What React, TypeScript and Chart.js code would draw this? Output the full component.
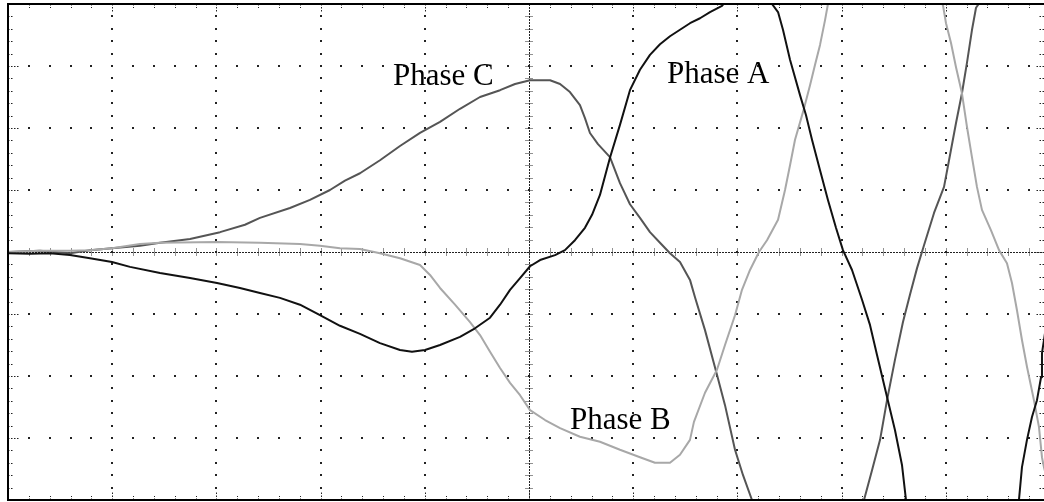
import React, { useEffect, useRef } from "react";
import { Chart, registerables } from "chart.js";

Chart.register(...registerables);

// ---- Data (x in horizontal divisions 0..10, y in vertical divisions -4..4) ----
const phaseAX = [0, 0.211, 0.403, 0.595, 0.787, 0.998, 1.171, 1.459, 1.747, 2.006, 2.226, 2.418, 2.61, 2.802, 2.994, 3.186, 3.378, 3.57, 3.762, 3.877, 4.002, 4.146, 4.338, 4.482, 4.626, 4.722, 4.818, 4.914, 5.01, 5.106, 5.25, 5.345, 5.441, 5.537, 5.605, 5.681, 5.777, 5.873, 5.969, 6.065, 6.161, 6.257, 6.353, 6.545, 6.641, 6.737, 6.852, 7.102, 7.332, 7.39, 7.438, 7.505, 7.601, 7.658, 7.716, 7.793, 7.869, 7.946, 8.013, 8.1, 8.196, 8.273, 8.34, 8.436, 8.512, 8.58, 8.618, 9.155, 9.702, 9.731, 9.779, 9.827, 9.875, 9.914, 9.923, 9.942, 10.0];
const phaseAY = [-0.02, -0.03, -0.02, -0.05, -0.1, -0.16, -0.24, -0.34, -0.42, -0.5, -0.58, -0.66, -0.74, -0.85, -1.02, -1.19, -1.32, -1.47, -1.58, -1.61, -1.58, -1.5, -1.37, -1.23, -1.06, -0.85, -0.61, -0.42, -0.23, -0.13, -0.05, 0.03, 0.19, 0.39, 0.6, 0.92, 1.52, 2.05, 2.61, 2.94, 3.18, 3.35, 3.48, 3.69, 3.77, 3.87, 3.97, 4.47, 4.0, 3.87, 3.58, 3.1, 2.53, 2.21, 1.81, 1.32, 0.84, 0.39, 0.03, -0.29, -0.77, -1.18, -1.66, -2.34, -2.87, -3.44, -4.0, -4.97, -4.0, -3.47, -3.03, -2.66, -2.39, -2.02, -1.63, -1.42, -0.77];

const phaseBX = [0, 0.307, 0.595, 0.787, 0.998, 1.267, 1.459, 2.006, 2.418, 2.802, 2.994, 3.186, 3.378, 3.57, 3.762, 3.954, 4.05, 4.146, 4.29, 4.434, 4.53, 4.626, 4.722, 4.818, 4.914, 5.01, 5.154, 5.298, 5.489, 5.681, 5.873, 6.065, 6.209, 6.353, 6.449, 6.545, 6.583, 6.689, 6.804, 6.881, 6.977, 7.044, 7.121, 7.207, 7.284, 7.39, 7.457, 7.505, 7.553, 7.63, 7.697, 7.745, 7.793, 7.841, 7.869, 8.417, 8.973, 9.002, 9.05, 9.098, 9.155, 9.203, 9.251, 9.299, 9.347, 9.434, 9.511, 9.587, 9.635, 9.683, 9.731, 9.779, 9.846, 9.894, 9.923, 9.942, 10.0];
const phaseBY = [0, 0.02, 0.02, 0.03, 0.06, 0.13, 0.15, 0.16, 0.15, 0.13, 0.1, 0.06, 0.05, -0.02, -0.1, -0.21, -0.37, -0.58, -0.85, -1.13, -1.34, -1.61, -1.87, -2.11, -2.31, -2.55, -2.71, -2.84, -2.98, -3.06, -3.19, -3.31, -3.4, -3.4, -3.27, -3.03, -2.74, -2.27, -1.9, -1.5, -1.02, -0.61, -0.29, 0.0, 0.19, 0.52, 1.0, 1.4, 1.81, 2.26, 2.69, 3.02, 3.34, 3.74, 4.0, 5.19, 3.98, 3.69, 3.37, 2.98, 2.56, 2.02, 1.53, 1.05, 0.68, 0.35, 0.03, -0.18, -0.5, -0.94, -1.42, -1.85, -2.39, -2.82, -3.31, -3.47, -3.84];

const phaseCX = [0, 0.307, 0.595, 0.787, 0.998, 1.267, 1.459, 1.747, 2.035, 2.274, 2.418, 2.706, 2.898, 3.09, 3.234, 3.378, 3.57, 3.762, 3.954, 4.146, 4.338, 4.53, 4.722, 4.866, 5.01, 5.202, 5.298, 5.393, 5.489, 5.537, 5.585, 5.662, 5.777, 5.873, 5.969, 6.065, 6.161, 6.257, 6.353, 6.449, 6.545, 6.593, 6.689, 6.804, 6.881, 6.977, 7.054, 7.14, 7.678, 8.215, 8.292, 8.369, 8.436, 8.512, 8.589, 8.656, 8.724, 8.791, 8.887, 8.983, 9.031, 9.098, 9.155, 9.203, 9.251, 9.29, 9.616, 10.0];
const phaseCY = [0, 0.02, -0.02, 0.03, 0.06, 0.1, 0.15, 0.21, 0.32, 0.44, 0.55, 0.71, 0.84, 1.0, 1.15, 1.27, 1.48, 1.71, 1.92, 2.1, 2.31, 2.5, 2.61, 2.71, 2.77, 2.77, 2.71, 2.58, 2.37, 2.16, 1.92, 1.74, 1.53, 1.11, 0.77, 0.55, 0.32, 0.15, -0.02, -0.16, -0.45, -0.73, -1.26, -1.98, -2.47, -3.19, -3.6, -4.0, -5.05, -4.0, -3.52, -3.03, -2.39, -1.74, -1.13, -0.69, -0.26, 0.11, 0.63, 1.05, 1.48, 2.08, 2.56, 3.05, 3.58, 3.94, 4.71, 4.39];

const seriesNames = ["Phase A", "Phase B", "Phase C"];
const seriesColors = ["#111111", "#a8a8a8", "#555555"];

// Label anchors (left/baseline) in division units
const labelNames = ["Phase C", "Phase A", "Phase B"];
const labelX = [3.695, 6.324, 5.393];
const labelY = [2.694, 2.726, -2.855];

// Axis divisions
const xMin = 0;
const xMax = 10;
const yMin = -4;
const yMax = 4;
const minorPerDiv = 5;

const toPoints = (xs: number[], ys: number[]) => xs.map((x, i) => ({ x, y: ys[i] }));

const scopeGrid = {
  id: "scopeGrid",
  beforeDatasetsDraw(chart: any) {
    const { ctx, chartArea: a, scales } = chart;
    const xs = scales.x;
    const ys = scales.y;
    ctx.save();
    ctx.fillStyle = "#222";
    const minorX: number[] = [];
    for (let i = xMin * minorPerDiv; i <= xMax * minorPerDiv; i++) minorX.push(i / minorPerDiv);
    const minorY: number[] = [];
    for (let i = yMin * minorPerDiv; i <= yMax * minorPerDiv; i++) minorY.push(i / minorPerDiv);

    // dotted major vertical lines
    for (let X = xMin + 1; X < xMax; X++) {
      if (X === 5) continue;
      const px = Math.round(xs.getPixelForValue(X));
      for (const Y of minorY) {
        const py = Math.round(ys.getPixelForValue(Y));
        ctx.fillRect(px - 1, py - 1, 2, 2);
      }
    }
    // dotted major horizontal lines
    for (let Y = yMin + 1; Y < yMax; Y++) {
      if (Y === 0) continue;
      const py = Math.round(ys.getPixelForValue(Y));
      for (const X of minorX) {
        const px = Math.round(xs.getPixelForValue(X));
        ctx.fillRect(px - 1, py - 1, 2, 2);
      }
    }
    // center cross lines
    ctx.strokeStyle = "#222";
    ctx.lineWidth = 1;
    const cy = Math.round(ys.getPixelForValue(0)) + 0.5;
    const cx = Math.round(xs.getPixelForValue(5)) + 0.5;
    ctx.setLineDash([2, 1]);
    ctx.beginPath();
    ctx.moveTo(a.left, cy);
    ctx.lineTo(a.right, cy);
    ctx.moveTo(cx, a.top);
    ctx.lineTo(cx, a.bottom);
    ctx.stroke();
    ctx.setLineDash([1, 1]);
    ctx.beginPath();
    for (const X of minorX) {
      const px = Math.round(xs.getPixelForValue(X)) + 0.5;
      ctx.moveTo(px, cy - 4);
      ctx.lineTo(px, cy + 4);
    }
    for (const Y of minorY) {
      const py = Math.round(ys.getPixelForValue(Y)) + 0.5;
      ctx.moveTo(cx - 4, py);
      ctx.lineTo(cx + 4, py);
    }
    ctx.stroke();

    // border ticks
    ctx.setLineDash([]);
    ctx.beginPath();
    for (const X of minorX) {
      const px = Math.round(xs.getPixelForValue(X)) + 0.5;
      const major = Math.abs(X - Math.round(X)) < 1e-6;
      const len = major ? 8 : 4;
      ctx.moveTo(px, a.top);
      ctx.lineTo(px, a.top + len);
      ctx.moveTo(px, a.bottom);
      ctx.lineTo(px, a.bottom - len);
    }
    for (const Y of minorY) {
      const py = Math.round(ys.getPixelForValue(Y)) + 0.5;
      const major = Math.abs(Y - Math.round(Y)) < 1e-6;
      ctx.moveTo(a.left, py);
      ctx.lineTo(a.left + (major ? 12 : 6), py);
      ctx.moveTo(a.right, py);
      ctx.lineTo(a.right - (major ? 15 : 12), py);
    }
    ctx.setLineDash([1.5, 1.5]);
    ctx.stroke();
    ctx.restore();
  },
  afterDatasetsDraw(chart: any) {
    const { ctx, chartArea: a, scales } = chart;
    ctx.save();
    ctx.strokeStyle = "#000";
    ctx.lineWidth = 2;
    ctx.strokeRect(a.left, a.top, a.right - a.left, a.bottom - a.top);
    ctx.fillStyle = "#000";
    ctx.font = '31px "Liberation Serif", "Times New Roman", serif';
    ctx.textBaseline = "alphabetic";
    ctx.textAlign = "left";
    labelNames.forEach((name, i) => {
      ctx.fillText(name, scales.x.getPixelForValue(labelX[i]), scales.y.getPixelForValue(labelY[i]));
    });
    ctx.restore();
  },
};

export default function App() {
  const canvasRef = useRef<HTMLCanvasElement | null>(null);

  useEffect(() => {
    if (!canvasRef.current) return;
    const common = { borderWidth: 2, pointRadius: 0, tension: 0, fill: false, borderJoinStyle: "round" as const };
    const chart = new Chart(canvasRef.current, {
      type: "line",
      data: {
        datasets: [
          { label: seriesNames[0], data: toPoints(phaseAX, phaseAY), borderColor: seriesColors[0], ...common },
          { label: seriesNames[1], data: toPoints(phaseBX, phaseBY), borderColor: seriesColors[1], ...common },
          { label: seriesNames[2], data: toPoints(phaseCX, phaseCY), borderColor: seriesColors[2], ...common },
        ],
      },
      options: {
        responsive: false,
        animation: false,
        events: [],
        layout: { padding: { left: 8, top: 4, right: 8, bottom: 2 } },
        scales: {
          x: { type: "linear", min: xMin, max: xMax, display: false },
          y: { type: "linear", min: yMin, max: yMax, display: false },
        },
        plugins: { legend: { display: false }, tooltip: { enabled: false } },
      },
      plugins: [scopeGrid],
    });
    return () => chart.destroy();
  }, []);

  return (
    <div style={{ position: "fixed", left: 0, top: 0, width: 1044, height: 502, overflow: "hidden", background: "#fff" }}>
      <canvas ref={canvasRef} width={1058} height={502} style={{ display: "block" }} />
    </div>
  );
}
